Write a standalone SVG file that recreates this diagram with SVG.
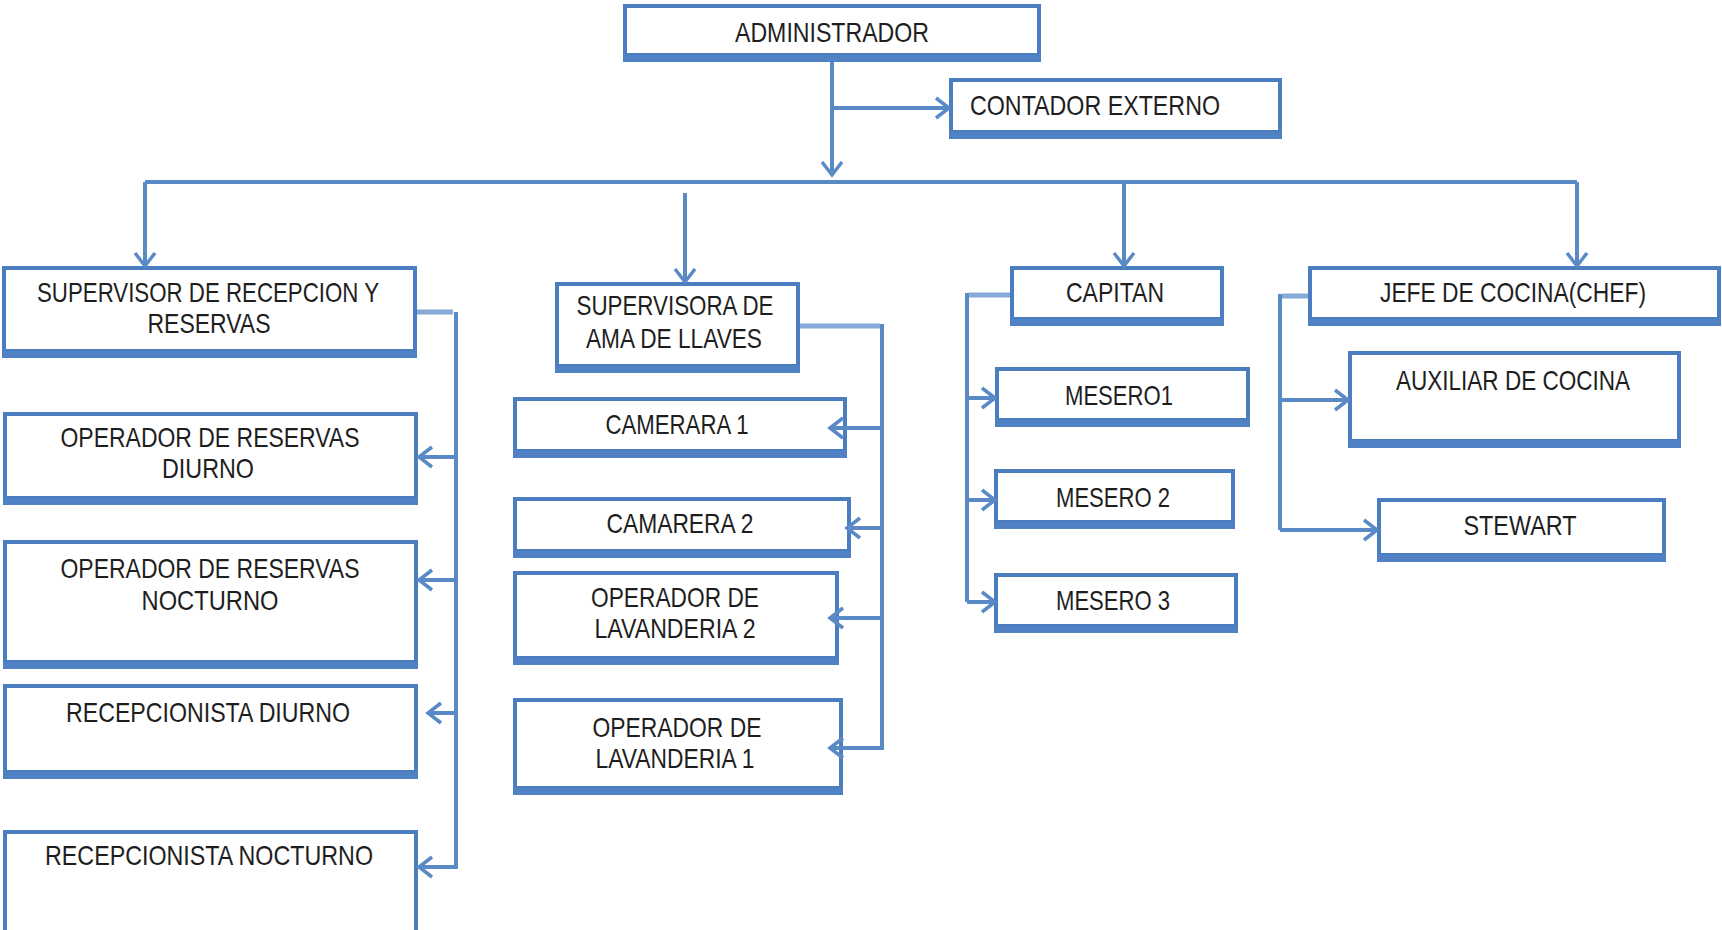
<svg xmlns="http://www.w3.org/2000/svg" width="1722" height="930" viewBox="0 0 1722 930">
<style>
.box{fill:#fff;stroke:#4A7EC0;stroke-width:4}
.band{fill:#4F81C4}
.t{font-family:"Liberation Sans",Arial,sans-serif;font-size:28px;fill:#1e1e1e;text-anchor:middle}
.c{fill:none;stroke:#5A8AC6;stroke-width:4}
.s{fill:none;stroke:#86AAD8;stroke-width:5}
.ca{fill:none;stroke:#5A8AC6;stroke-width:4;marker-end:url(#arr)}
</style>
<defs>
<marker id="arr" markerUnits="userSpaceOnUse" viewBox="0 0 20 24" markerWidth="20" markerHeight="24" refX="17" refY="12" orient="auto">
<path d="M4,2 L17,12 L4,22" fill="none" stroke="#5A8AC6" stroke-width="3.5"/>
</marker>
</defs>
<rect width="1722" height="930" fill="#fff"/>
<g id="n-admin"><rect class="box" x="625" y="6" width="414" height="49"/><rect class="band" x="623" y="55" width="418" height="7"/><text class="t" x="832" y="42" textLength="194" lengthAdjust="spacingAndGlyphs">ADMINISTRADOR</text></g>
<g id="n-contador"><rect class="box" x="951" y="80" width="329" height="52"/><rect class="band" x="949" y="132" width="333" height="7"/><text class="t" x="1095" y="115" textLength="250" lengthAdjust="spacingAndGlyphs">CONTADOR EXTERNO</text></g>
<g id="n-suprec"><rect class="box" x="4" y="268" width="411" height="83"/><rect class="band" x="2" y="351" width="415" height="7"/><text class="t" x="208" y="302" textLength="342" lengthAdjust="spacingAndGlyphs">SUPERVISOR DE RECEPCION Y</text><text class="t" x="209" y="333" textLength="123" lengthAdjust="spacingAndGlyphs">RESERVAS</text></g>
<g id="n-supama"><rect class="box" x="557" y="284" width="241" height="82"/><rect class="band" x="555" y="366" width="245" height="7"/><text class="t" x="675" y="315" textLength="197" lengthAdjust="spacingAndGlyphs">SUPERVISORA DE</text><text class="t" x="674" y="348" textLength="176" lengthAdjust="spacingAndGlyphs">AMA DE LLAVES</text></g>
<g id="n-capitan"><rect class="box" x="1012" y="268" width="210" height="51"/><rect class="band" x="1010" y="319" width="214" height="7"/><text class="t" x="1115" y="302" textLength="98" lengthAdjust="spacingAndGlyphs">CAPITAN</text></g>
<g id="n-jefe"><rect class="box" x="1310" y="268" width="409" height="51"/><rect class="band" x="1308" y="319" width="413" height="7"/><text class="t" x="1513" y="302" textLength="266" lengthAdjust="spacingAndGlyphs">JEFE DE COCINA(CHEF)</text></g>
<g id="n-opresd"><rect class="box" x="5" y="414" width="411" height="84"/><rect class="band" x="3" y="498" width="415" height="7"/><text class="t" x="210" y="447" textLength="299" lengthAdjust="spacingAndGlyphs">OPERADOR DE RESERVAS</text><text class="t" x="208" y="478" textLength="92" lengthAdjust="spacingAndGlyphs">DIURNO</text></g>
<g id="n-opresn"><rect class="box" x="5" y="542" width="411" height="120"/><rect class="band" x="3" y="662" width="415" height="7"/><text class="t" x="210" y="578" textLength="299" lengthAdjust="spacingAndGlyphs">OPERADOR DE RESERVAS</text><text class="t" x="210" y="610" textLength="137" lengthAdjust="spacingAndGlyphs">NOCTURNO</text></g>
<g id="n-recd"><rect class="box" x="5" y="686" width="411" height="86"/><rect class="band" x="3" y="772" width="415" height="7"/><text class="t" x="208" y="722" textLength="284" lengthAdjust="spacingAndGlyphs">RECEPCIONISTA DIURNO</text></g>
<g id="n-recn"><rect class="box" x="5" y="832" width="411" height="120"/><text class="t" x="209" y="865" textLength="328" lengthAdjust="spacingAndGlyphs">RECEPCIONISTA NOCTURNO</text></g>
<g id="n-cam1"><rect class="box" x="515" y="399" width="330" height="52"/><rect class="band" x="513" y="451" width="334" height="7"/><text class="t" x="677" y="434" textLength="143" lengthAdjust="spacingAndGlyphs">CAMERARA 1</text></g>
<g id="n-cam2"><rect class="box" x="515" y="499" width="334" height="52"/><rect class="band" x="513" y="551" width="338" height="7"/><text class="t" x="680" y="533" textLength="147" lengthAdjust="spacingAndGlyphs">CAMARERA 2</text></g>
<g id="n-lav2"><rect class="box" x="515" y="573" width="322" height="85"/><rect class="band" x="513" y="658" width="326" height="7"/><text class="t" x="675" y="607" textLength="168" lengthAdjust="spacingAndGlyphs">OPERADOR DE</text><text class="t" x="675" y="638" textLength="161" lengthAdjust="spacingAndGlyphs">LAVANDERIA 2</text></g>
<g id="n-lav1"><rect class="box" x="515" y="700" width="326" height="88"/><rect class="band" x="513" y="788" width="330" height="7"/><text class="t" x="677" y="737" textLength="169" lengthAdjust="spacingAndGlyphs">OPERADOR DE</text><text class="t" x="675" y="768" textLength="159" lengthAdjust="spacingAndGlyphs">LAVANDERIA 1</text></g>
<g id="n-mes1"><rect class="box" x="997" y="369" width="251" height="51"/><rect class="band" x="995" y="420" width="255" height="7"/><text class="t" x="1119" y="405" textLength="108" lengthAdjust="spacingAndGlyphs">MESERO1</text></g>
<g id="n-mes2"><rect class="box" x="996" y="471" width="237" height="51"/><rect class="band" x="994" y="522" width="241" height="7"/><text class="t" x="1113" y="507" textLength="114" lengthAdjust="spacingAndGlyphs">MESERO 2</text></g>
<g id="n-mes3"><rect class="box" x="996" y="575" width="240" height="51"/><rect class="band" x="994" y="626" width="244" height="7"/><text class="t" x="1113" y="610" textLength="114" lengthAdjust="spacingAndGlyphs">MESERO 3</text></g>
<g id="n-aux"><rect class="box" x="1350" y="353" width="329" height="88"/><rect class="band" x="1348" y="441" width="333" height="7"/><text class="t" x="1513" y="390" textLength="234" lengthAdjust="spacingAndGlyphs">AUXILIAR DE COCINA</text></g>
<g id="n-stewart"><rect class="box" x="1379" y="500" width="285" height="55"/><rect class="band" x="1377" y="555" width="289" height="7"/><text class="t" x="1520" y="535" textLength="113" lengthAdjust="spacingAndGlyphs">STEWART</text></g>
<g id="connectors">
<path class="ca" d="M832,62 V175"/>
<path class="ca" d="M832,108 H949"/>
<path class="c" d="M145,182 H1577"/>
<path class="ca" d="M145,182 V266"/>
<path class="ca" d="M685,193 V282"/>
<path class="ca" d="M1124,182 V266"/>
<path class="ca" d="M1577,182 V266"/>
<path class="s" d="M417,312 H453"/>
<path class="c" d="M456,312 V869"/>
<path class="ca" d="M456,457 H419"/>
<path class="ca" d="M456,580 H419"/>
<path class="ca" d="M456,713 H428"/>
<path class="ca" d="M456,867 H419"/>
<path class="s" d="M800,326 H880"/>
<path class="c" d="M882,324 V750"/>
<path class="ca" d="M882,428 H830"/>
<path class="ca" d="M882,528 H847"/>
<path class="ca" d="M882,618 H830"/>
<path class="ca" d="M882,748 H830"/>
<path class="s" d="M1010,295 H969"/>
<path class="c" d="M967,293 V602"/>
<path class="ca" d="M967,398 H995"/>
<path class="ca" d="M967,500 H995"/>
<path class="ca" d="M967,602 H995"/>
<path class="s" d="M1308,296 H1282"/>
<path class="c" d="M1280,294 V530"/>
<path class="ca" d="M1280,400 H1348"/>
<path class="ca" d="M1280,530 H1377"/>
</g>
</svg>
